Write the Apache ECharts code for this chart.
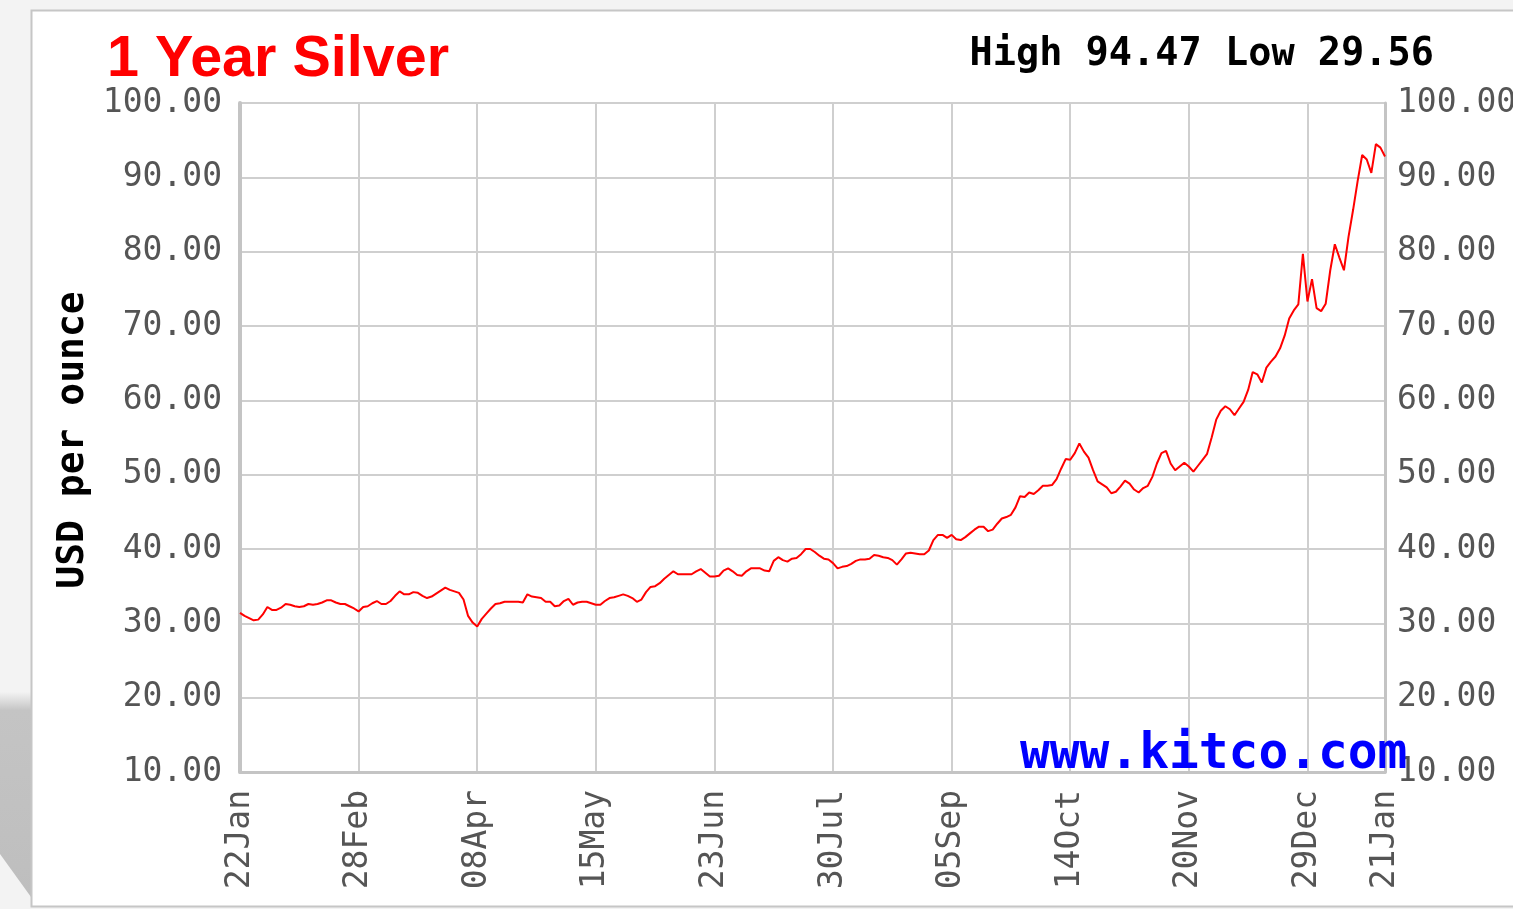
<!DOCTYPE html>
<html>
<head>
<meta charset="utf-8">
<script src="https://cdn.jsdelivr.net/npm/echarts@6/dist/echarts.min.js"></script>
<style>
html,body{margin:0;padding:0;background:#f3f3f3;}
#chart{width:1513px;height:909px;}
</style>
</head>
<body>
<div id="chart"></div>
<script>
// Tick labels on the date axis (one every 26 trading days, last one = end of range)
var dateLabels = ['22Jan','28Feb','08Apr','15May','23Jun','30Jul','05Sep','14Oct','20Nov','29Dec','21Jan'];
var tradingDaysPerLabel = 26;
var lastTradingDay = 251;

// Daily silver price, USD per ounce (one value per trading day)
var prices = [
  31.4,31.0,30.7,30.4,30.5,31.2,32.2,31.8,31.8,32.1,
  32.6,32.5,32.3,32.2,32.3,32.6,32.5,32.6,32.8,33.1,
  33.1,32.8,32.6,32.6,32.3,32.0,31.6,32.2,32.3,32.7,
  33.0,32.6,32.6,33.0,33.7,34.3,33.9,33.9,34.2,34.1,
  33.7,33.4,33.6,34.0,34.4,34.8,34.5,34.3,34.1,33.2,
  31.0,30.1,29.56,30.6,31.3,32.0,32.6,32.7,32.9,32.9,
  32.9,32.9,32.8,33.9,33.6,33.5,33.4,32.9,32.9,32.3,
  32.4,33.0,33.3,32.5,32.8,32.9,32.9,32.7,32.5,32.5,
  33.0,33.4,33.5,33.7,33.9,33.7,33.4,32.9,33.2,34.2,
  34.9,35.0,35.4,36.0,36.5,37.0,36.6,36.6,36.6,36.6,
  37.0,37.3,36.8,36.3,36.3,36.4,37.1,37.4,37.0,36.5,
  36.4,37.0,37.4,37.4,37.4,37.1,37.0,38.4,38.9,38.5,
  38.3,38.7,38.8,39.3,40.0,40.0,39.6,39.1,38.7,38.6,
  38.1,37.4,37.6,37.7,38.0,38.4,38.6,38.6,38.7,39.2,
  39.1,38.9,38.8,38.5,37.9,38.6,39.4,39.5,39.4,39.3,
  39.3,39.8,41.2,41.9,41.9,41.5,41.9,41.3,41.2,41.6,
  42.1,42.6,43.0,43.0,42.4,42.6,43.4,44.1,44.3,44.6,
  45.6,47.1,47.0,47.6,47.4,47.9,48.5,48.5,48.6,49.4,
  50.8,52.1,52.0,52.9,54.2,53.1,52.3,50.6,49.1,48.7,
  48.3,47.5,47.7,48.4,49.2,48.8,48.0,47.6,48.2,48.5,
  49.7,51.5,52.9,53.2,51.5,50.6,51.1,51.6,51.1,50.4,
  51.2,52.0,52.8,55.0,57.4,58.6,59.2,58.8,58.0,58.9,
  59.8,61.4,63.8,63.5,62.4,64.4,65.2,65.9,67.0,68.7,
  71.0,72.1,72.9,79.7,73.3,76.3,72.4,72.0,73.0,77.5,
  81.0,79.2,77.5,82.0,85.6,89.5,93.0,92.4,90.6,94.47,
  94.0,92.8
];

var titleText = '1 Year Silver';
var highLowText = 'High 94.47 Low 29.56';
var yAxisTitle = 'USD per ounce';
var sourceText = 'www.kitco.com';
var yMin = 10, yMax = 100, yStep = 10;

var seriesData = prices.map(function (v, i) { return [i, v]; });

var chart = echarts.init(document.getElementById('chart'), null, {renderer: 'canvas'});

var monoTick = {
  fontFamily: '"DejaVu Sans Mono", monospace',
  fontSize: 33,
  color: '#555555'
};
var gridLineColor = '#cfcfcf';
var frameColor = '#c4c4c4';

chart.setOption({
  backgroundColor: '#f3f3f3',
  animation: false,
  grid: {
    left: 240, right: 128, top: 103, bottom: 137,
    containLabel: false,
    outerBoundsMode: 'none'
  },
  graphic: [
    {
      type: 'polygon', z: -10, silent: true,
      shape: {points: [[0, 692], [31, 692], [31, 897], [0, 854]]},
      style: {
        fill: new echarts.graphic.LinearGradient(0, 0, 0, 1, [
          {offset: 0, color: 'rgba(196,196,196,0)'},
          {offset: 0.09, color: 'rgba(196,196,196,1)'},
          {offset: 1, color: 'rgba(190,190,190,1)'}
        ])
      }
    },
    {
      type: 'rect', z: -9, silent: true,
      shape: {x: 31.5, y: 10.5, width: 1500, height: 896},
      style: {fill: '#ffffff', stroke: '#c6c6c6', lineWidth: 2}
    },
    {
      type: 'text', z: 10, silent: true,
      style: {
        x: 107, y: 60, text: titleText,
        fontFamily: '"Liberation Sans", Arial, sans-serif',
        fontWeight: 'bold', fontSize: 57.5,
        fill: '#ff0000', align: 'left', verticalAlign: 'middle'
      }
    },
    {
      type: 'text', z: 10, silent: true,
      style: {
        x: 1434, y: 55, text: highLowText,
        fontFamily: '"DejaVu Sans Mono", monospace',
        fontWeight: 'bold', fontSize: 38.6,
        fill: '#000000', align: 'right', verticalAlign: 'middle'
      }
    },
    {
      type: 'text', z: 10, silent: true,
      x: 73, y: 440, rotation: Math.PI / 2,
      style: {
        x: 0, y: 0, text: yAxisTitle,
        fontFamily: '"DejaVu Sans Mono", monospace',
        fontWeight: 'bold', fontSize: 38,
        fill: '#000000', align: 'center', verticalAlign: 'middle'
      }
    },
    {
      type: 'text', z: 100, silent: true,
      style: {
        x: 1020, y: 755, text: sourceText,
        fontFamily: '"DejaVu Sans Mono", monospace',
        fontWeight: 'bold', fontSize: 49.5,
        fill: '#0000ff', align: 'left', verticalAlign: 'middle'
      }
    }
  ],
  xAxis: {
    type: 'value',
    min: 0,
    max: lastTradingDay,
    interval: tradingDaysPerLabel,
    axisLine: {show: true, lineStyle: {color: frameColor, width: 3}},
    axisTick: {show: false},
    splitLine: {show: true, lineStyle: {color: gridLineColor, width: 2}},
    axisLabel: Object.assign({
      rotate: 90,
      margin: 18,
      showMinLabel: true,
      showMaxLabel: true,
      formatter: function (v) {
        if (v >= lastTradingDay) return dateLabels[dateLabels.length - 1];
        var k = Math.round(v / tradingDaysPerLabel);
        return dateLabels[k] || '';
      }
    }, monoTick)
  },
  yAxis: [
    {
      type: 'value', min: yMin, max: yMax, interval: yStep, position: 'left',
      axisLine: {show: true, lineStyle: {color: frameColor, width: 4}},
      axisTick: {show: false},
      splitLine: {show: true, lineStyle: {color: gridLineColor, width: 2}},
      axisLabel: Object.assign({
        margin: 18,
        formatter: function (v) { return v.toFixed(2); }
      }, monoTick)
    },
    {
      type: 'value', min: yMin, max: yMax, interval: yStep, position: 'right',
      axisLine: {show: true, lineStyle: {color: frameColor, width: 3}},
      axisTick: {show: false},
      splitLine: {show: false},
      axisLabel: Object.assign({
        margin: 12,
        formatter: function (v) { return v.toFixed(2); }
      }, monoTick)
    }
  ],
  series: [{
    type: 'line',
    data: seriesData,
    showSymbol: false,
    symbol: 'none',
    lineStyle: {color: '#ff0000', width: 2},
    z: 5
  }]
});
</script>
</body>
</html>
